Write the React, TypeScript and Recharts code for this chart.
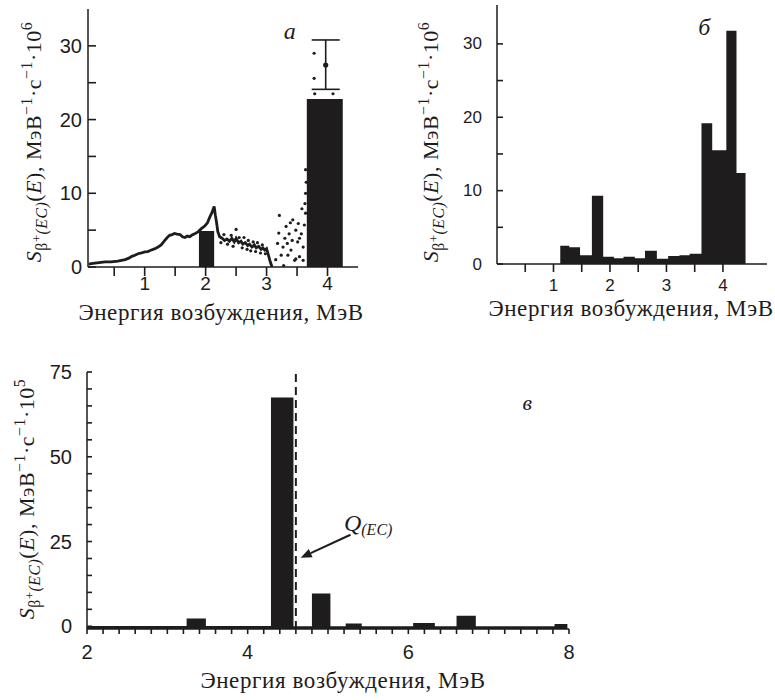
import React from "react";
import {
  ComposedChart, Area, Line, Scatter, ErrorBar, XAxis, YAxis, ReferenceLine, ReferenceDot,
} from "recharts";

const INK = "#1e1c1c";
const SERIF = "'Liberation Serif', 'DejaVu Serif', serif";
const SANS = "'Liberation Sans', Arial, sans-serif";
const X_TITLE = "Энергия возбуждения, МэВ";

// panel а: measured curve, E (МэВ) and S
const curveA: [number, number][] = [
  [0.08, 0.4], [0.15, 0.5], [0.25, 0.6], [0.35, 0.7], [0.45, 0.7], [0.56, 0.8], [0.62, 0.9],
  [0.68, 1.0], [0.74, 1.2], [0.79, 1.45], [0.84, 1.6], [0.89, 1.8], [0.95, 1.9], [1.0, 2.05],
  [1.05, 2.1], [1.11, 2.3], [1.16, 2.45], [1.22, 2.7], [1.27, 3.0], [1.33, 3.6], [1.37, 4.0],
  [1.41, 4.3], [1.45, 4.4], [1.49, 4.55], [1.53, 4.45], [1.58, 4.4], [1.62, 4.1], [1.66, 4.0],
  [1.7, 4.2], [1.74, 4.1], [1.77, 4.3], [1.82, 4.5], [1.88, 4.8], [1.93, 5.2], [1.99, 5.6],
  [2.03, 6.0], [2.07, 6.8], [2.1, 7.3], [2.14, 8.2], [2.16, 7.0], [2.18, 6.0], [2.2, 4.8],
  [2.23, 4.1], [2.27, 3.9], [2.31, 3.6], [2.35, 3.8], [2.39, 3.5], [2.43, 3.9], [2.47, 3.4],
  [2.5, 3.9], [2.54, 3.3], [2.58, 3.5], [2.61, 3.1], [2.65, 3.3], [2.69, 2.9], [2.72, 3.1],
  [2.76, 2.7], [2.8, 3.0], [2.83, 2.6], [2.87, 2.8], [2.91, 2.4], [2.94, 2.6], [2.97, 2.3],
  [3.0, 2.5], [3.03, 1.6], [3.06, 0.7], [3.09, 0.0],
];

// panel а: scattered points
const noiseA: [number, number][] = [
  [2.25, 3.3], [2.3, 4.4], [2.36, 3.1], [2.42, 4.3], [2.45, 2.8], [2.5, 5.1], [2.55, 4.0],
  [2.6, 2.6], [2.63, 4.0], [2.68, 2.4], [2.7, 3.6], [2.74, 2.2], [2.78, 3.4], [2.82, 2.1],
  [2.85, 3.3], [2.9, 1.9], [2.93, 3.0], [2.98, 1.8],
  [3.21, 7.0], [3.18, 3.2], [3.27, 2.7], [3.3, 3.9], [3.32, 5.5], [3.37, 4.5], [3.4, 2.3],
  [3.43, 6.4], [3.46, 0.9], [3.48, 5.0], [3.51, 3.4], [3.54, 1.4], [3.57, 4.5], [3.6, 2.7],
  [3.62, 5.7], [3.24, 1.6], [3.28, 0.2], [3.35, 1.6], [3.34, 3.2], [3.42, 3.6], [3.48, 1.1],
  [3.54, 3.9], [3.6, 0.9], [3.64, 7.3], [3.58, 7.9], [3.63, 8.6], [3.64, 10.0], [3.65, 11.5],
  [3.64, 13.2], [3.15, 1.0], [3.2, 4.6], [3.39, 6.0], [3.52, 5.9],
  [3.78, 29.0], [3.78, 25.6], [3.79, 23.5], [4.09, 23.5],
];

// panel а: histogram blocks (left edge, height)
const barsA: [number, number][] = [[1.89, 4.9], [2.14, 0], [3.66, 22.8], [4.25, 0]];
const errA = [{ e: 3.97, s: 27.4, err: [3.3, 3.4] }];

// panel б: bin edges and heights
const edgesB = [1.12, 1.28, 1.47, 1.68, 1.88, 2.07, 2.24, 2.44, 2.62, 2.83, 3.03, 3.23, 3.41, 3.62, 3.81, 4.06, 4.24, 4.4];
const heightsB = [2.5, 2.3, 1.2, 9.3, 1.0, 0.8, 1.0, 0.8, 1.8, 0.7, 1.1, 1.2, 1.4, 19.2, 15.5, 31.8, 12.4];

// panel в: bin edges and heights (МэВ, ×10^5)
const edgesC = [2.0, 3.24, 3.48, 4.29, 4.57, 4.8, 5.03, 5.22, 5.42, 6.06, 6.33, 6.6, 6.84, 7.82, 7.98];
const heightsC = [0.1, 2.3, 0.1, 67.5, 0, 9.7, 0, 0.8, 0, 1.0, 0, 3.1, 0, 0.7];
const Q_EC = 4.6;

const xTicksAB = [0.5, 1, 1.5, 2, 2.5, 3, 3.5, 4];
const yTicksAB = [0, 5, 10, 15, 20, 25, 30];
const xTicksC = [2, 2.2, 2.4, 2.6, 2.8, 3, 3.2, 3.4, 3.6, 3.8, 4, 4.2, 4.4, 4.6, 4.8, 5, 5.2, 5.4, 5.6, 5.8,
  6, 6.2, 6.4, 6.6, 6.8, 7, 7.2, 7.4, 7.6, 7.8, 8];
const yTicksC = [0, 5, 10, 15, 20, 25, 30, 35, 40, 45, 50, 55, 60, 65, 70, 75];

const pts = (arr: [number, number][]) => arr.map(([e, s]) => ({ e, s }));
const hist = (edges: number[], h: number[]) => edges.map((e, i) => ({ e, s: i < h.length ? h[i] : 0 }));

const axisStyle = { stroke: INK, strokeWidth: 1.5 };
const dot = (r: number) => (p: any) => <circle cx={p.cx} cy={p.cy} r={r} fill={INK} />;

// tick drawn from the axis line: inward line for y, outward line for x
const yTick = (len: number, gap: number, fs: number, fmt: (v: number) => string) => (p: any) => (
  <g>
    <line x1={p.x} x2={p.x + len} y1={p.y} y2={p.y} stroke={INK} strokeWidth={1.6} />
    <text x={p.x - gap} y={p.y} textAnchor="end" dominantBaseline="central" fontFamily={SANS}
      fontSize={fs} fill={INK}>{fmt(p.payload.value)}</text>
  </g>
);
const xTick = (len: number, gap: number, fs: number, fmt: (v: number) => string) => (p: any) => (
  <g>
    <line x1={p.x} x2={p.x} y1={p.y} y2={p.y + len} stroke={INK} strokeWidth={1.6} />
    <text x={p.x} y={p.y + len + gap} textAnchor="middle" dy="0.71em" fontFamily={SANS}
      fontSize={fs} fill={INK}>{fmt(p.payload.value)}</text>
  </g>
);

function YTitle({ x, y, exp }: { x: number; y: number; exp: string }) {
  const size = 22;
  const sub = size * 0.72;
  return (
    <text transform={`translate(${x},${y}) rotate(-90)`} textAnchor="middle" fontFamily={SERIF}
      fontSize={size} fill={INK} letterSpacing={0.5}>
      <tspan fontStyle="italic">S</tspan>
      <tspan fontSize={sub} dy={size * 0.28}>β</tspan>
      <tspan fontSize={sub * 0.8} dy={-size * 0.3}>+</tspan>
      <tspan fontSize={sub} fontStyle="italic" dy={size * 0.3}>(EC)</tspan>
      <tspan dy={-size * 0.28}>(</tspan>
      <tspan fontStyle="italic">E</tspan>
      <tspan>), МэВ</tspan>
      <tspan fontSize={sub} dy={-size * 0.4}>−1</tspan>
      <tspan dy={size * 0.4}>·с</tspan>
      <tspan fontSize={sub} dy={-size * 0.4}>−1</tspan>
      <tspan dy={size * 0.4}>·10</tspan>
      <tspan fontSize={sub} dy={-size * 0.4}>{exp}</tspan>
    </text>
  );
}

function XTitle({ x, y }: { x: number; y: number }) {
  return (
    <text x={x} y={y} textAnchor="middle" fontFamily={SERIF} fontSize={23} fill={INK} letterSpacing={0.6}>
      {X_TITLE}
    </text>
  );
}

const letter = (txt: string, size: number) => ({
  content: (p: any) => (
    <text x={p.viewBox.x} y={p.viewBox.y} textAnchor="middle" dominantBaseline="central"
      fontFamily={SERIF} fontStyle="italic" fontSize={size} fill={INK}>{txt}</text>
  ),
});

const tenLabel = (v: number) => (v % 10 === 0 ? String(v) : "");
const intLabel = (v: number) => (Number.isInteger(v) ? String(v) : "");
const evenLabel = (v: number) => (Number.isInteger(v) && v % 2 === 0 ? String(v) : "");
const quarterLabel = (v: number) => (v % 25 === 0 ? String(v) : "");

function PanelA() {
  return (
    <ComposedChart width={370} height={330} margin={{ top: 9, right: 12, bottom: 13, left: 0 }}>
      <XAxis type="number" dataKey="e" domain={[0.07, 4.5]} ticks={xTicksAB} interval={0} allowDataOverflow
        height={50} axisLine={axisStyle} tickLine={false} tickSize={0} tickMargin={0}
        tick={xTick(9, 1, 19, intLabel)}
        label={{ content: () => <XTitle x={221} y={320} /> }} />
      <YAxis type="number" dataKey="s" domain={[0, 35]} ticks={yTicksAB} interval={0} allowDataOverflow
        width={88} axisLine={axisStyle} tickLine={false} tickSize={0} tickMargin={0}
        tick={yTick(8, 6, 20, tenLabel)}
        label={{ content: () => <YTitle x={41} y={142} exp="6" /> }} />
      <XAxis xAxisId="top" orientation="top" type="number" domain={[0, 1]} height={0} tick={false}
        tickLine={false} axisLine={axisStyle} />
      <YAxis yAxisId="right" orientation="right" type="number" domain={[0, 1]} width={0} tick={false}
        tickLine={false} axisLine={axisStyle} />
      <Area data={pts(barsA)} dataKey="s" type="stepAfter" fill={INK} fillOpacity={1} stroke="none"
        isAnimationActive={false} />
      <Line data={pts(curveA)} dataKey="s" type="linear" stroke={INK} strokeWidth={2.8} dot={false}
        isAnimationActive={false} />
      <Scatter data={pts(noiseA)} dataKey="s" shape={dot(1.6)} isAnimationActive={false} />
      <Scatter data={errA} dataKey="s" shape={dot(2.6)} isAnimationActive={false}>
        <ErrorBar dataKey="err" direction="y" width={14} stroke={INK} strokeWidth={1.6} />
      </Scatter>
      <ReferenceDot x={3.38} y={32} r={0} label={letter("а", 24)} />
    </ComposedChart>
  );
}

function PanelB() {
  return (
    <ComposedChart width={395} height={330} margin={{ top: 5, right: 8, bottom: 16, left: 0 }}>
      <XAxis type="number" dataKey="e" domain={[0, 4.78]} ticks={xTicksAB} interval={0} allowDataOverflow
        height={50} axisLine={axisStyle} tickLine={false} tickSize={0} tickMargin={0}
        tick={xTick(8, 7, 17, intLabel)}
        label={{ content: () => <XTitle x={251} y={316} /> }} />
      <YAxis type="number" dataKey="s" domain={[0, 35.3]} ticks={yTicksAB} interval={0} allowDataOverflow
        width={117} axisLine={axisStyle} tickLine={false} tickSize={0} tickMargin={0}
        tick={yTick(6, 15, 17, tenLabel)}
        label={{ content: () => <YTitle x={58} y={142} exp="6" /> }} />
      <XAxis xAxisId="top" orientation="top" type="number" domain={[0, 1]} height={0} tick={false}
        tickLine={false} axisLine={axisStyle} />
      <YAxis yAxisId="right" orientation="right" type="number" domain={[0, 1]} width={0} tick={false}
        tickLine={false} axisLine={axisStyle} />
      <Area data={hist(edgesB, heightsB)} dataKey="s" type="stepAfter" fill={INK} fillOpacity={1}
        stroke="none" isAnimationActive={false} />
      <ReferenceDot x={3.67} y={32.3} r={0} label={letter("б", 24)} />
    </ComposedChart>
  );
}

function Arrow(p: any) {
  const { x1, y1, x2, y2 } = p;
  const ang = Math.atan2(y2 - y1, x2 - x1);
  const L = 11, W = 4.5;
  const bx = x2 - L * Math.cos(ang), by = y2 - L * Math.sin(ang);
  const nx = -Math.sin(ang) * W, ny = Math.cos(ang) * W;
  return (
    <g>
      <line x1={x1} y1={y1} x2={bx} y2={by} stroke={INK} strokeWidth={2} />
      <polygon points={`${x2},${y2} ${bx + nx},${by + ny} ${bx - nx},${by - ny}`} fill={INK} />
    </g>
  );
}

const qLabel = {
  content: (p: any) => (
    <text x={p.viewBox.x} y={p.viewBox.y} fontFamily={SERIF} fontStyle="italic" fontSize={24} fill={INK}
      textAnchor="middle" dominantBaseline="central">
      <tspan>Q</tspan>
      <tspan fontSize={16} dy={6}>(EC)</tspan>
    </text>
  ),
};

function PanelC() {
  return (
    <ComposedChart width={775} height={360} margin={{ top: 32, right: 206, bottom: 21, left: 0 }}>
      <XAxis type="number" dataKey="e" domain={[2, 8]} ticks={xTicksC} interval={0} allowDataOverflow
        height={50} axisLine={axisStyle} tickLine={false} tickSize={0} tickMargin={0}
        tick={xTick(5, 11, 20, evenLabel)}
        label={{ content: () => <XTitle x={343} y={348} /> }} />
      <YAxis type="number" dataKey="s" domain={[-0.8, 75]} ticks={yTicksC} interval={0} allowDataOverflow
        width={87} axisLine={axisStyle} tickLine={false} tickSize={0} tickMargin={0}
        tick={yTick(5, 15, 20, quarterLabel)}
        label={{ content: () => <YTitle x={34} y={159} exp="5" /> }} />
      <Area data={hist(edgesC, heightsC)} dataKey="s" type="stepAfter" baseValue={-0.8} fill={INK}
        fillOpacity={1} stroke="none" isAnimationActive={false} />
      <ReferenceLine x={Q_EC} stroke={INK} strokeWidth={2} strokeDasharray="8 5" />
      <ReferenceLine segment={[{ x: 5.28, y: 27 }, { x: 4.66, y: 20.2 }]} shape={Arrow} />
      <ReferenceDot x={5.5} y={30.5} r={0} label={qLabel} />
      <ReferenceDot x={7.48} y={65.9} r={0} label={letter("в", 22)} />
    </ComposedChart>
  );
}

export default function App() {
  return (
    <div style={{ position: "absolute", left: 0, top: 0, width: 775, height: 700, background: "#fff" }}>
      <div style={{ position: "absolute", left: 0, top: 0 }}><PanelA /></div>
      <div style={{ position: "absolute", left: 380, top: 0 }}><PanelB /></div>
      <div style={{ position: "absolute", left: 0, top: 340 }}><PanelC /></div>
    </div>
  );
}
